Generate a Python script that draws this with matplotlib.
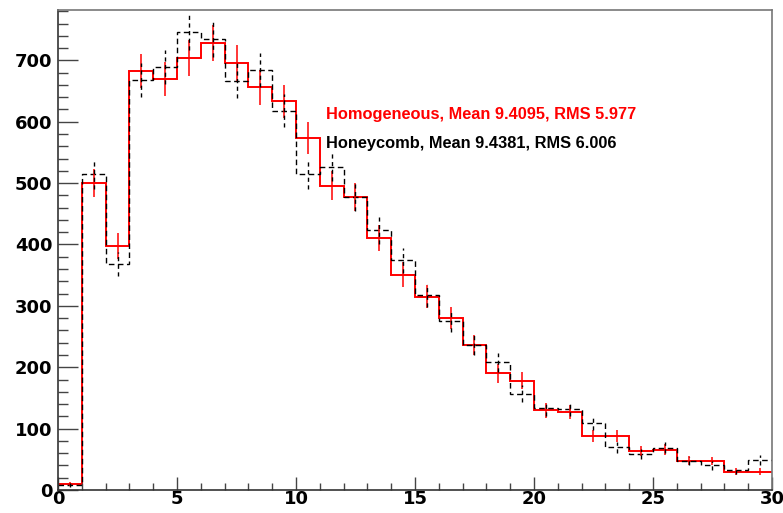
#!/usr/bin/env python3
"""Homogeneous vs honeycomb histogram comparison, ROOT-style."""
import numpy as np
import matplotlib

matplotlib.use("Agg")
import matplotlib.pyplot as plt
from matplotlib.ticker import MultipleLocator

bin_edges = list(range(0, 31))

homog_counts = [10, 500, 398, 683, 670, 704, 728, 696, 656, 633,
                574, 496, 477, 410, 351, 315, 280, 236, 190, 178,
                130, 127, 88, 88, 64, 66, 48, 47, 30, 30]
homog_errs = [3, 23, 21, 28, 28, 29, 29, 29, 28, 27,
              26, 24, 23, 21, 20, 19, 18, 16, 15, 14,
              12, 12, 10, 10, 8, 9, 7, 7, 6, 6]

honey_counts = [8, 515, 368, 668, 689, 746, 735, 667, 684, 618,
                515, 527, 477, 423, 374, 317, 276, 236, 208, 157,
                133, 132, 109, 70, 59, 69, 47, 40, 32, 49]
honey_errs = [3, 24, 20, 28, 28, 29, 29, 28, 28, 27,
              24, 24, 23, 22, 20, 19, 18, 16, 15, 14,
              12, 12, 11, 9, 8, 9, 7, 7, 6, 8]

homog_label = "Homogeneous, Mean 9.4095, RMS 5.977"
honey_label = "Honeycomb, Mean 9.4381, RMS 6.006"


def main():
    edges = np.array(bin_edges, dtype=float)
    centers = 0.5 * (edges[:-1] + edges[1:])
    hv, he = np.array(homog_counts), np.array(homog_errs)
    cv, ce = np.array(honey_counts), np.array(honey_errs)

    fig = plt.figure(figsize=(7.83, 5.13), dpi=100)
    ax = fig.add_axes([0.0741, 0.0448, 0.9118, 0.9357])

    ax.stairs(hv, edges, baseline=None, color="#ff0000", lw=1.4)
    ax.vlines(centers, hv - he, hv + he, colors="#ff0000", lw=1.1)

    ax.stairs(cv, edges, baseline=None, color="black", lw=1.0, ls=(0, (4, 2.5)))
    ax.vlines(centers, cv - ce, cv + ce, colors="black", lw=1.0, linestyles=(0, (3, 2.5)))

    ax.set_xlim(0, 30)
    ax.set_ylim(0, 782)

    ax.xaxis.set_major_locator(MultipleLocator(5))
    ax.xaxis.set_minor_locator(MultipleLocator(1))
    ax.yaxis.set_major_locator(MultipleLocator(100))
    ax.yaxis.set_minor_locator(MultipleLocator(20))

    ax.tick_params(axis="y", which="major", direction="in", length=14.4, width=1.0,
                   color="#444444", pad=4)
    ax.tick_params(axis="y", which="minor", direction="in", length=7.2, width=1.0,
                   color="#444444")
    ax.tick_params(axis="x", which="major", direction="in", length=9.4, width=1.0,
                   color="#444444", pad=0)
    ax.tick_params(axis="x", which="minor", direction="in", length=5, width=1.0,
                   color="#444444")
    for lab in ax.get_xticklabels() + ax.get_yticklabels():
        lab.set_fontweight("bold")
        lab.set_fontsize(13)

    for side in ["left", "bottom"]:
        ax.spines[side].set_color("#333333")
        ax.spines[side].set_linewidth(1.2)
    for side in ["right", "top"]:
        ax.spines[side].set_color("#777777")
        ax.spines[side].set_linewidth(1.2)

    ax.text(0.3757, 0.7816, homog_label, transform=ax.transAxes, color="#ff0000",
            fontsize=11.8, fontweight="bold", family="Liberation Sans",
            va="center", ha="left")
    ax.text(0.3757, 0.7212, honey_label, transform=ax.transAxes, color="black",
            fontsize=11.8, fontweight="bold", family="Liberation Sans",
            va="center", ha="left")

    fig.savefig("out.png", dpi=100)


if __name__ == "__main__":
    main()
